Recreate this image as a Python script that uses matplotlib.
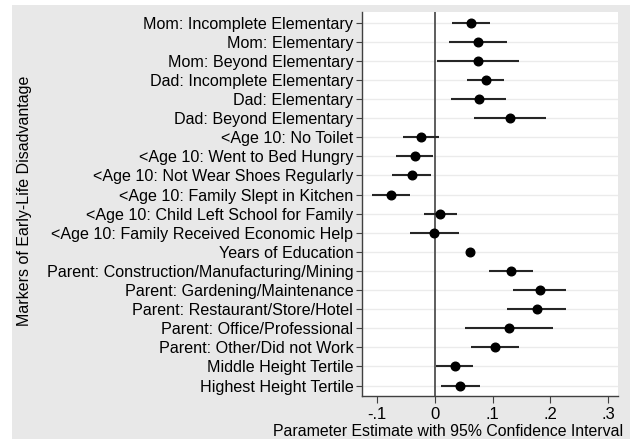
import numpy as np
import matplotlib.pyplot as plt
from matplotlib.patches import Rectangle

plt.rcParams['font.family'] = ['Liberation Sans', 'DejaVu Sans']

labels = [
    'Mom: Incomplete Elementary',
    'Mom: Elementary',
    'Mom: Beyond Elementary',
    'Dad: Incomplete Elementary',
    'Dad: Elementary',
    'Dad: Beyond Elementary',
    '<Age 10: No Toilet',
    '<Age 10: Went to Bed Hungry',
    '<Age 10: Not Wear Shoes Regularly',
    '<Age 10: Family Slept in Kitchen',
    '<Age 10: Child Left School for Family',
    '<Age 10: Family Received Economic Help',
    'Years of Education',
    'Parent: Construction/Manufacturing/Mining',
    'Parent: Gardening/Maintenance',
    'Parent: Restaurant/Store/Hotel',
    'Parent: Office/Professional',
    'Parent: Other/Did not Work',
    'Middle Height Tertile',
    'Highest Height Tertile',
]
estimate = [0.063, 0.075, 0.074, 0.088, 0.076, 0.131, -0.025, -0.035, -0.040, -0.076,
            0.009, -0.001, 0.061, 0.132, 0.182, 0.177, 0.129, 0.104, 0.035, 0.044]
ci_low = [0.030, 0.025, 0.004, 0.056, 0.028, 0.067, -0.056, -0.067, -0.074, -0.109,
          -0.019, -0.043, 0.058, 0.094, 0.135, 0.125, 0.053, 0.062, 0.001, 0.011]
ci_high = [0.095, 0.125, 0.145, 0.120, 0.124, 0.193, 0.007, -0.003, -0.006, -0.043,
           0.038, 0.042, 0.064, 0.170, 0.227, 0.228, 0.205, 0.146, 0.066, 0.078]
xticks = [-0.1, 0, 0.1, 0.2, 0.3]
xtick_labels = ['-.1', '0', '.1', '.2', '.3']

gray = '#e8e8e8'
W, H = 630, 441
fig = plt.figure(figsize=(6.3, 4.41), dpi=100, facecolor='white')
fig.patches.append(Rectangle((12 / W, 1 - 438.7 / H), (630 - 12) / W, (438.7 - 5) / H,
                             transform=fig.transFigure, facecolor=gray, edgecolor='none', zorder=-10))

ax = fig.add_axes([361.7 / W, 1 - 395.7 / H, (618.3 - 361.7) / W, (395.7 - 12.3) / H])
ax.set_facecolor('white')

y = np.arange(len(labels))
for yi in y:
    ax.axhline(yi, color='#ebebeb', lw=1.0, zorder=1)
ax.axvline(0, color='#505050', lw=1.3, zorder=2)

est = np.array(estimate)
ax.hlines(y, ci_low, ci_high, color='#262626', lw=1.5, zorder=3)
ax.plot(est, y, 'o', color='black', ms=6.2, zorder=4)

ax.set_xlim(-0.127, 0.318)
ax.set_ylim(len(labels) - 0.47, -0.54)
ax.set_yticks(y)
ax.set_yticklabels(labels, fontsize=11.6)
ax.set_xticks(xticks)
ax.set_xticklabels(xtick_labels, fontsize=12)
ax.tick_params(axis='y', length=4, width=0.8, color='#404040', pad=2)
ax.tick_params(axis='x', length=5, width=0.8, color='#404040', pad=3)

for side in ['top', 'right']:
    ax.spines[side].set_visible(False)
for side in ['left', 'bottom']:
    ax.spines[side].set_color('#404040')
    ax.spines[side].set_linewidth(1.0)

fig.text(448 / W, 1 - 436 / H, 'Parameter Estimate with 95% Confidence Interval',
         ha='center', va='baseline', fontsize=11.4)
fig.text(25 / W, 1 - 201 / H, 'Markers of Early-Life Disadvantage', rotation=90,
         ha='center', va='center', fontsize=11.5)

fig.savefig('out.png', dpi=100, facecolor='white')
